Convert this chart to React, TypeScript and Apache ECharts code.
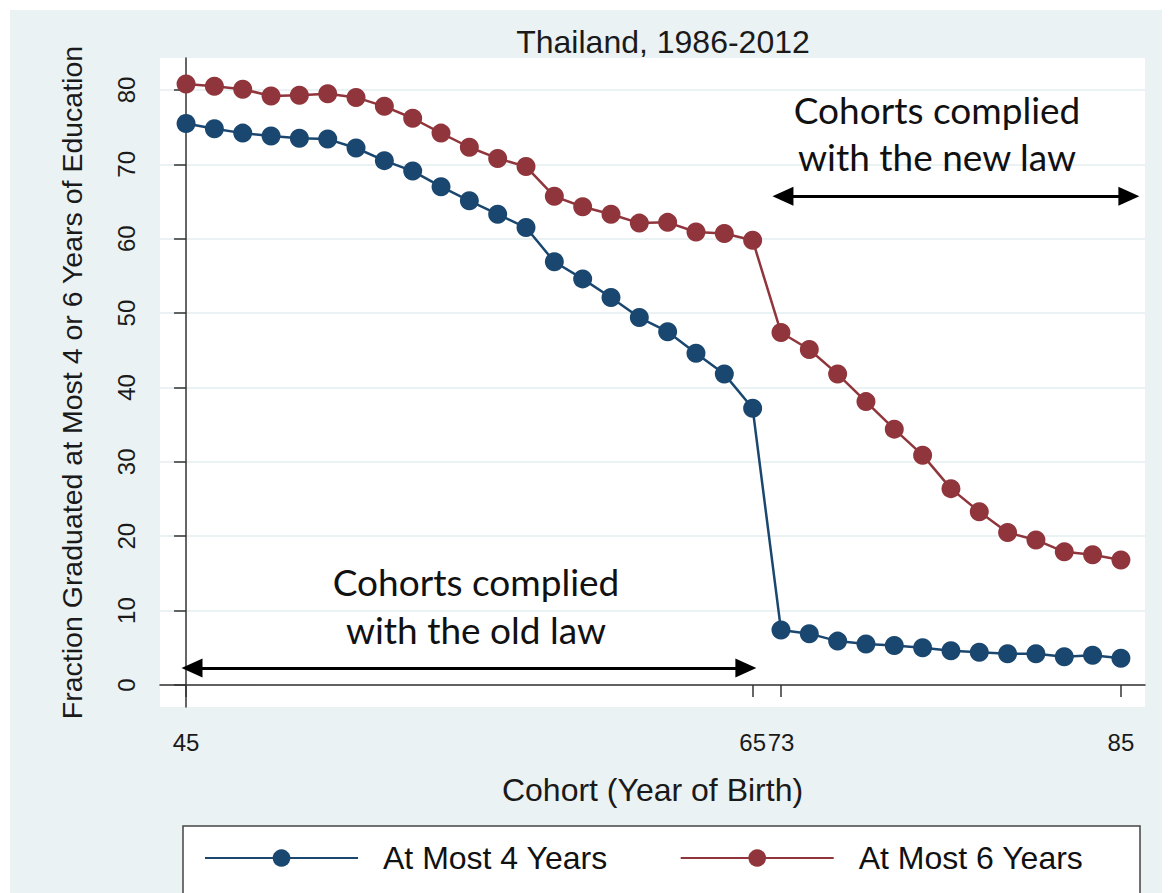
import { useEffect, useRef } from "react";
import * as echarts from "echarts";

// Cohorts (year of birth) shown on the x axis; the axis is evenly spaced by cohort index
const cohorts = [45, 46, 47, 48, 49, 50, 51, 52, 53, 54, 55, 56, 57, 58, 59, 60, 61, 62, 63, 64, 65, 73, 74, 75, 76, 77, 78, 79, 80, 81, 82, 83, 84, 85];
const atMost4Years = [75.5, 74.8, 74.2, 73.8, 73.5, 73.4, 72.2, 70.5, 69.1, 67.0, 65.1, 63.3, 61.5, 56.9, 54.6, 52.1, 49.4, 47.5, 44.6, 41.8, 37.2, 7.4, 6.9, 5.9, 5.5, 5.3, 5.0, 4.6, 4.4, 4.2, 4.2, 3.8, 4.0, 3.6];
const atMost6Years = [80.8, 80.5, 80.1, 79.2, 79.3, 79.5, 79.0, 77.8, 76.2, 74.2, 72.3, 70.8, 69.7, 65.7, 64.3, 63.3, 62.1, 62.2, 60.9, 60.7, 59.8, 47.4, 45.1, 41.8, 38.1, 34.4, 30.9, 26.4, 23.3, 20.5, 19.5, 17.9, 17.5, 16.8];
const xTickLabels = [45, 65, 73, 85];
const yTickValues = [0, 10, 20, 30, 40, 50, 60, 70, 80];
const seriesNames = ["At Most 4 Years", "At Most 6 Years"];

const NAVY = "#1a476f";
const MAROON = "#90353b";
const BG = "#eaf2f3";
const FONT = "'Liberation Sans', Arial, Helvetica, sans-serif";
const ANNOT_FONT = "Lato, 'Open Sans', sans-serif";

export default function App() {
  const ref = useRef<HTMLDivElement>(null);

  useEffect(() => {
    if (!ref.current) return;
    const chart = echarts.init(ref.current, null, { renderer: "svg" });
    const xTickIdx = xTickLabels.map((c) => cohorts.indexOf(c));

    chart.setOption({
      animation: false,
      backgroundColor: "#ffffff",
      title: {
        text: "Thailand, 1986-2012",
        left: 658,
        top: 21,
        textAlign: "center",
        textStyle: { fontFamily: FONT, fontSize: 32, fontWeight: "normal", color: "#1a1a1a" },
      },
      graphic: [
        {
          type: "rect",
          z: -10,
          silent: true,
          shape: { x: 10, y: 10, width: 1152, height: 900 },
          style: { fill: BG },
        },
        {
          type: "rect",
          z: 1,
          silent: true,
          shape: { x: 183, y: 826, width: 957, height: 100 },
          style: { fill: "#ffffff", stroke: "#444444", lineWidth: 1.5 },
        },
        {
          type: "text",
          z: 10,
          silent: true,
          style: {
            text: "Cohorts complied\nwith the new law",
            x: 937,
            y: 133,
            align: "center",
            verticalAlign: "middle",
            font: `37px ${ANNOT_FONT}`,
            lineHeight: 47,
            fill: "#111111",
          },
        },
        {
          type: "text",
          z: 10,
          silent: true,
          style: {
            text: "Cohorts complied\nwith the old law",
            x: 476,
            y: 605,
            align: "center",
            verticalAlign: "middle",
            font: `37px ${ANNOT_FONT}`,
            lineHeight: 48,
            fill: "#111111",
          },
        },
      ],
      grid: {
        left: 160,
        right: 28,
        top: 58,
        bottom: 186,
        show: true,
        backgroundColor: "#ffffff",
        borderWidth: 0,
        z: 0,
      },
      legend: {
        data: seriesNames,
        left: 204,
        top: 842,
        z: 5,
        padding: 0,
        itemWidth: 153,
        itemHeight: 22,
        itemGap: 72,
        textStyle: { fontFamily: FONT, fontSize: 32, color: "#111111", padding: [0, 0, 0, 20] },
      },
      xAxis: {
        type: "value",
        min: -0.92,
        max: 33.85,
        name: "Cohort (Year of Birth)",
        nameLocation: "middle",
        nameGap: 67,
        nameTextStyle: { fontFamily: FONT, fontSize: 32, color: "#1a1a1a" },
        axisLine: { show: true, lineStyle: { color: "#333333", width: 1.5 } },
        axisTick: { show: true, length: 12, customValues: xTickIdx, lineStyle: { color: "#333333", width: 1.5 } },
        axisLabel: {
          customValues: xTickIdx,
          margin: 23,
          hideOverlap: false,
          fontFamily: FONT,
          fontSize: 24,
          color: "#1a1a1a",
          formatter: (v: number) => String(cohorts[Math.round(v)]),
        },
        splitLine: { show: false },
      },
      yAxis: {
        type: "value",
        min: -2.96,
        max: 84.3,
        name: "Fraction Graduated at Most 4 or 6 Years of Education",
        nameLocation: "middle",
        nameGap: 74,
        nameTextStyle: { fontFamily: FONT, fontSize: 28.5, color: "#1a1a1a" },
        axisLine: { show: true, lineStyle: { color: "#333333", width: 1.5 } },
        axisTick: { show: true, length: 12, customValues: yTickValues, lineStyle: { color: "#333333", width: 1.5 } },
        axisLabel: {
          customValues: yTickValues,
          rotate: 90,
          margin: 22,
          fontFamily: FONT,
          fontSize: 24,
          color: "#1a1a1a",
        },
        splitLine: { show: true, lineStyle: { color: BG, width: 2 } },
      },
      series: [
        {
          name: seriesNames[0],
          type: "line",
          data: atMost4Years.map((v, i) => [i, v]),
          symbol: "circle",
          symbolSize: 19,
          color: NAVY,
          lineStyle: { color: NAVY, width: 2.5 },
          itemStyle: { color: NAVY },
          z: 3,
          markLine: {
            silent: true,
            symbol: ["triangle", "triangle"],
            symbolSize: [19, 21],
            lineStyle: { color: "#000000", width: 3, type: "solid" },
            label: { show: false },
            emphasis: { disabled: true },
            data: [
              [{ coord: [0.21, 2.29] }, { coord: [19.76, 2.29] }],
              [{ coord: [21.07, 65.7] }, { coord: [33.28, 65.7] }],
            ],
          },
        },
        {
          name: seriesNames[1],
          type: "line",
          data: atMost6Years.map((v, i) => [i, v]),
          symbol: "circle",
          symbolSize: 19,
          color: MAROON,
          lineStyle: { color: MAROON, width: 2.5 },
          itemStyle: { color: MAROON },
          z: 3,
        },
      ],
    });

    return () => chart.dispose();
  }, []);

  return (
    <div
      ref={ref}
      style={{ position: "absolute", left: 0, top: 0, width: 1173, height: 893 }}
    />
  );
}
